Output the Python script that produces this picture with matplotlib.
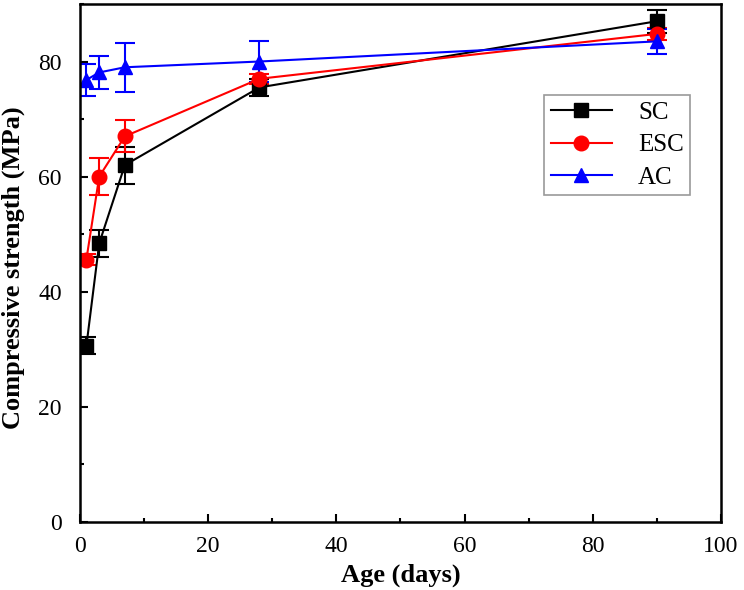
import numpy as np
import matplotlib
matplotlib.use("Agg")
import matplotlib.pyplot as plt
from matplotlib.ticker import MultipleLocator
from matplotlib.lines import Line2D

plt.rcParams["font.family"] = ["Liberation Serif", "DejaVu Serif"]

# curing age (days) and compressive strength (MPa)
age = [1, 3, 7, 28, 90]
sc = [30.6, 48.4, 62.0, 75.5, 87.0]
sc_err = [1.5, 2.3, 3.2, 1.5, 2.0]
esc = [45.6, 60.0, 67.0, 77.0, 84.8]
esc_err = [1.0, 3.2, 2.8, 0.9, 1.0]
ac = [76.8, 78.1, 79.0, 80.0, 83.5]
ac_err = [2.8, 2.8, 4.3, 3.6, 2.2]

fig = plt.figure(figsize=(7.44, 5.90), dpi=100)
ax = fig.add_axes([0.1075, 0.1153, 0.8615, 0.878])

handles = []
for y, err, label, color, marker in [
    (sc, sc_err, "SC", "black", "s"),
    (esc, esc_err, "ESC", "red", "o"),
    (ac, ac_err, "AC", "blue", "^"),
]:
    ax.errorbar(age, y, yerr=err, color=color, marker=marker, ms=10.5, lw=1.5,
                capsize=7, capthick=1.5, elinewidth=1.5)
    # legend entries without the error bar glyph
    handles.append(Line2D([], [], color=color, marker=marker, ms=10.5, lw=1.5, label=label))

ax.set_xlim(0, 100)
ax.set_ylim(0, 90)
ax.xaxis.set_major_locator(MultipleLocator(20))
ax.xaxis.set_minor_locator(MultipleLocator(10))
ax.yaxis.set_major_locator(MultipleLocator(20))
ax.yaxis.set_minor_locator(MultipleLocator(10))
ax.tick_params(which="both", direction="in", labelsize=17, width=1.5)
ax.tick_params(which="major", length=6)
ax.tick_params(which="minor", length=3)
ax.tick_params(axis="y", pad=13)
ax.tick_params(axis="x", pad=10)
for s in ax.spines.values():
    s.set_linewidth(1.8)

ax.set_xlabel("Age (days)", fontsize=19, fontweight="bold", labelpad=5)
ax.set_ylabel("Compressive strength (MPa)", fontsize=19, fontweight="bold")
ax.yaxis.set_label_coords(-0.085, 0.49)

leg = ax.legend(handles=handles, loc="upper right", bbox_to_anchor=(0.952, 0.824),
                borderaxespad=0, fontsize=18, fancybox=False, edgecolor="gray",
                handlelength=2.45, handletextpad=1.05, labelspacing=0.4,
                borderpad=0.25)
leg.get_frame().set_linewidth(1.2)

plt.savefig("out.png", dpi=100)
